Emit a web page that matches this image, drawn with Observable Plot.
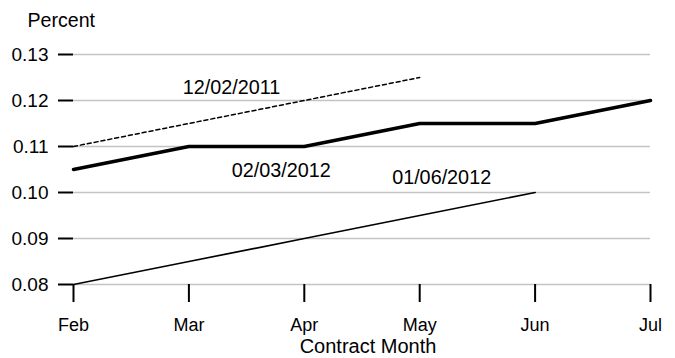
<!DOCTYPE html>
<html>
<head>
<meta charset="utf-8">
<script src="https://cdn.jsdelivr.net/npm/d3@7"></script>
<script src="https://cdn.jsdelivr.net/npm/@observablehq/plot@0.6"></script>
<style>
  html, body { margin: 0; padding: 0; background: #fff; }
  #chart svg { display: block; }
</style>
</head>
<body>
<div id="chart"></div>
<script>
const months = ["Feb", "Mar", "Apr", "May", "Jun", "Jul"];
const yTicks = [0.08, 0.09, 0.10, 0.11, 0.12, 0.13];

const seriesDec2011 = [0.110, 0.115, 0.120, 0.125];               // 12/02/2011 (Feb–May)
const seriesMar2012 = [0.105, 0.110, 0.110, 0.115, 0.115, 0.120]; // 02/03/2012 (Feb–Jul)
const seriesJun2012 = [0.080, 0.085, 0.090, 0.095, 0.100];        // 01/06/2012 (Feb–Jun)

const labelNames = ["12/02/2011", "02/03/2012", "01/06/2012"];
const labelMonthPos = [1.37, 1.80, 3.19];
const labelValues = [0.1228, 0.1047, 0.1032];

const toRows = (vals) => vals.map((v, i) => ({x: i, y: v}));
const labels = labelNames.map((t, i) => ({t, x: labelMonthPos[i], y: labelValues[i]}));

const font = "Liberation Sans, Arial, Helvetica, sans-serif";

const chart = Plot.plot({
  width: 675,
  height: 358,
  marginLeft: 73,
  marginRight: 25,
  marginTop: 54,
  marginBottom: 74,
  style: {fontFamily: font, fontSize: "19px", color: "#000", background: "#fff"},
  x: {type: "linear", domain: [0, months.length - 1]},
  y: {domain: [0.08, 0.13]},
  marks: [
    Plot.ruleY(yTicks, {x1: 0, x2: months.length - 1, stroke: "#c4c4c4", strokeWidth: 1.6}),
    Plot.axisY({
      ticks: yTicks, tickSize: 15, tickPadding: 10, tickFormat: d3.format(".2f"),
      strokeWidth: 2, label: null, fontSize: 19
    }),
    Plot.axisX({
      ticks: d3.range(months.length), tickSize: 18, tickPadding: 16,
      tickFormat: (i) => months[i], strokeWidth: 2, label: null, fontSize: 18
    }),
    Plot.line(toRows(seriesDec2011), {x: "x", y: "y", stroke: "#000", strokeWidth: 1.5, strokeDasharray: "4,3"}),
    Plot.line(toRows(seriesMar2012), {x: "x", y: "y", stroke: "#000", strokeWidth: 3.5}),
    Plot.line(toRows(seriesJun2012), {x: "x", y: "y", stroke: "#000", strokeWidth: 1.7}),
    Plot.text(labels, {x: "x", y: "y", text: "t", fill: "#000", fontSize: 19.8, textAnchor: "middle", lineAnchor: "middle"}),
    Plot.text(["Percent"], {frameAnchor: "top-left", dx: -46, dy: -41, textAnchor: "start", lineAnchor: "top", fill: "#000", fontSize: 19.6}),
    Plot.text(["Contract Month"], {frameAnchor: "bottom", dx: 6, dy: 54, lineAnchor: "top", fill: "#000", fontSize: 20}),
  ]
});

document.getElementById("chart").appendChild(chart);
</script>
</body>
</html>
